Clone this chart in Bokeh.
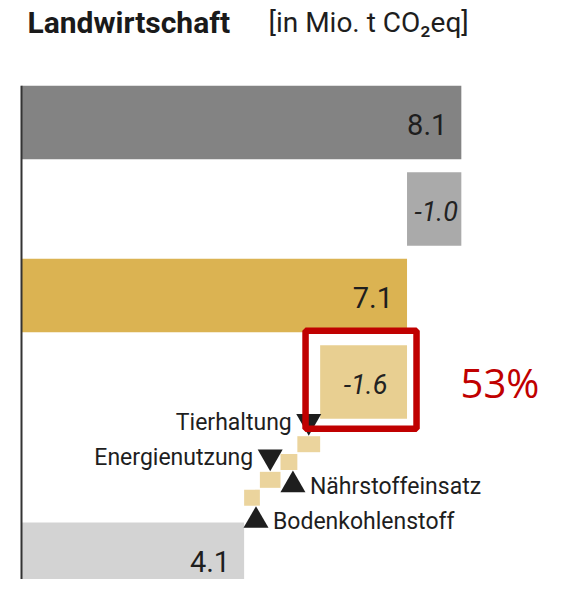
from bokeh.plotting import figure
from bokeh.models import Range1d, Label
from bokeh.core.properties import value
from bokeh.embed import file_html
from bokeh.resources import INLINE

# ---------------- data ----------------
title_text = "Landwirtschaft"
unit_text = "[in Mio. t CO\u2082eq]"
total_values = [8.1, 7.1, 4.1]
total_labels = ["8.1", "7.1", "4.1"]
change_values = [-1.0, -1.6]
change_labels = ["-1.0", "-1.6"]
measure_names = ["Tierhaltung", "N\u00e4hrstoffeinsatz", "Energienutzung", "Bodenkohlenstoff"]
measure_values = [-0.42, -0.31, -0.38, -0.29]
share_label = "53%"

# ---------------- styles ----------------
FONT = "Roboto"
TEXT = "#1e1e1e"
total_colors = ["#838383", "#dbb352", "#d3d3d3"]
change_colors = ["#aaaaaa", "#e8cf91"]
step_color = "#ebd49d"
RED = "#c00000"

PX_X = 54.3   # px per unit (x)
PX_Y = 86.5   # px per row (y)
W, H = 547, 579
X0, Y0 = 21, 122

p = figure(width=W, height=H,
           x_range=Range1d(-X0 / PX_X, (W - X0) / PX_X),
           y_range=Range1d((H - Y0) / PX_Y, -Y0 / PX_Y),
           output_backend="svg", toolbar_location=None, min_border=0)
p.axis.visible = False
p.grid.visible = False
p.outline_line_color = None
p.background_fill_color = "white"
p.border_fill_color = "white"

BAR_H = 0.85
total_rows = [0, 2, 5.05]
change_rows = [1, 3]

# totals
p.hbar(y=total_rows, left=0, right=total_values, height=BAR_H,
       fill_color=total_colors, line_color=None)
p.text(x=total_values, y=total_rows, text=total_labels,
       text_font=value(FONT), text_font_size=value("29px"),
       text_align="right", text_baseline="middle", text_color=TEXT, x_offset=-14, y_offset=2)

# changes
change_right = [total_values[0], total_values[1]]
change_left = [r + c for r, c in zip(change_right, change_values)]
p.hbar(y=change_rows, left=change_left, right=change_right, height=BAR_H,
       fill_color=change_colors, line_color=None)
p.text(x=[(l + r) / 2 for l, r in zip(change_left, change_right)], y=change_rows,
       text=change_labels, text_font=value(FONT), text_font_size=value("27px"),
       text_font_style="italic", text_align="center", text_baseline="middle",
       text_color="#222222", x_offset=2, y_offset=2)

# measure steps
step_right = []
cur = change_left[1]
for v in measure_values:
    step_right.append(cur)
    cur += v
step_left = [r + v for r, v in zip(step_right, measure_values)]
step_rows = [3.719 + i * 0.206 for i in range(len(measure_values))]
p.hbar(y=step_rows, left=step_left, right=step_right, height=0.185,
       fill_color=step_color, line_color=None)

down = [i % 2 == 0 for i in range(len(measure_values))]
tri_x = [(l + r) / 2 + (0 if d else 4 / PX_X) for l, r, d in zip(step_left, step_right, down)]
tri_y = [y + (-23 if d else 23) / PX_Y for y, d in zip(step_rows, down)]
markers = ["inverted_triangle" if d else "triangle" for d in down]
p.scatter(x=tri_x, y=tri_y, marker=markers, size=25, fill_color=TEXT, line_color=None)

lab_x = [x + (-17 if d else 17) / PX_X for x, d in zip(tri_x, down)]
aligns = ["right" if d else "left" for d in down]
for x, y, t, a in zip(lab_x, tri_y, measure_names, aligns):
    p.text(x=[x], y=[y], text=[t], text_font=value(FONT), text_font_size=value("23px"),
           text_align=a, text_baseline="middle", text_color=TEXT, y_offset=1)

# axis line
p.segment(x0=[0], y0=[-BAR_H / 2], x1=[0], y1=[(H - Y0) / PX_Y], line_color="#333333", line_width=2)

# highlight box
hl_left = change_left[1] - 14.6 / PX_X
hl_right = change_right[1] + 9.5 / PX_X
hl_top = change_rows[1] - BAR_H / 2 - 14.5 / PX_Y
hl_bottom = change_rows[1] + BAR_H / 2 + 10 / PX_Y
p.quad(left=[hl_left], right=[hl_right], top=[hl_top], bottom=[hl_bottom],
       fill_color=None, line_color=RED, line_width=6.5)
p.text(x=[hl_right], y=[change_rows[1]], text=[share_label], text_font=value("Open Sans"),
       text_font_size=value("40px"), text_align="left", text_baseline="middle",
       text_color=RED, x_offset=44)

# title
p.add_layout(Label(x=6 / PX_X, y=-100 / PX_Y, text=title_text, text_font=FONT,
                   text_font_size="30px", text_font_style="bold", text_color="#1a1a1a",
                   text_baseline="alphabetic"))
p.add_layout(Label(x=247 / PX_X, y=-100 / PX_Y, text=unit_text, text_font=FONT,
                   text_font_size="28px", text_color=TEXT, text_baseline="alphabetic"))

open("out.html", "w").write(file_html(p, INLINE))
